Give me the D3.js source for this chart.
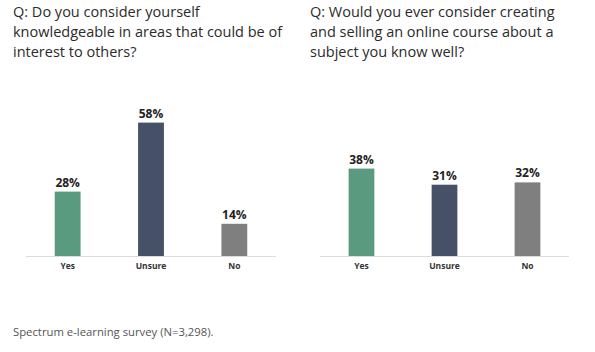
<!DOCTYPE html>
<html><head><meta charset="utf-8">
<script src="https://cdn.jsdelivr.net/npm/d3@7"></script>
<style>body{margin:0;background:#fff}svg{display:block}text{font-family:"Open Sans",sans-serif}</style>
</head><body>
<svg id="c" width="595" height="352"></svg>
<script>
const categories = ["Yes", "Unsure", "No"];
const leftValues = [28, 58, 14];
const rightValues = [38, 31, 32];
const leftTitle = ["Q: Do you consider yourself", "knowledgeable in areas that could be of", "interest to others?"];
const rightTitle = ["Q: Would you ever consider creating", "and selling an online course about a", "subject you know well?"];
const footnote = "Spectrum e-learning survey (N=3,298).";
const colors = ["#5a9a7e", "#465066", "#7f7f7f"];

const svg = d3.select("#c");
const y = d3.scaleLinear().domain([0, 100]).range([256, 26]);

function panel(x0, x1, titleX, title, values) {
  const g = svg.append("g");
  const x = d3.scaleBand().domain(categories).range([x0, x1]).paddingInner(0.69).paddingOuter(0.345);
  g.selectAll("text.t").data(title).join("text").attr("class","t")
    .attr("x", titleX).attr("y", (d,i) => 17 + i*20)
    .attr("font-size", 14.5).attr("fill", "#2b2b2b").text(d => d);
  g.append("line").attr("x1", x0).attr("x2", x1).attr("y1", y(0)+0.5).attr("y2", y(0)+0.5)
    .attr("stroke", "#dcdcdc").attr("stroke-width", 1);
  g.selectAll("rect").data(values).join("rect")
    .attr("x", (d,i) => x(categories[i])).attr("width", x.bandwidth())
    .attr("y", d => y(d)).attr("height", d => y(0) - y(d))
    .attr("fill", (d,i) => colors[i]);
  g.selectAll("text.v").data(values).join("text").attr("class","v")
    .attr("x", (d,i) => x(categories[i]) + x.bandwidth()/2).attr("y", d => y(d) - 5)
    .attr("text-anchor", "middle").attr("font-size", 12).attr("font-weight", "bold").attr("fill", "#222")
    .text(d => d + "%");
  const ax = d3.axisBottom(x).tickSize(0).tickPadding(7);
  const a = g.append("g").attr("transform", `translate(0,${y(0)})`).call(ax);
  a.select(".domain").remove();
  a.selectAll("text").attr("font-size", 8.5).attr("font-weight", "bold").attr("fill", "#333")
    .style("font-family", '"Open Sans",sans-serif');
}
panel(26, 276, 13, leftTitle, leftValues);
panel(320, 569, 310, rightTitle, rightValues);
svg.append("text").attr("x", 13).attr("y", 336).attr("font-size", 11.3).attr("fill", "#555").text(footnote);
</script>
</body></html>
